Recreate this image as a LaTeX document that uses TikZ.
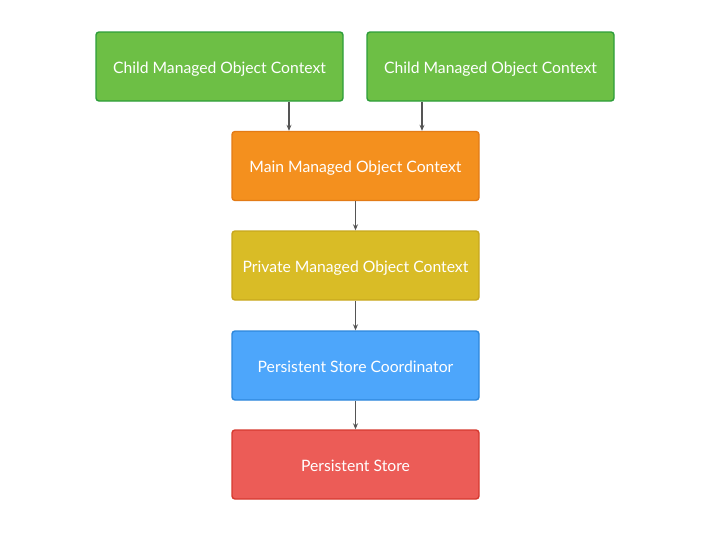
\documentclass[tikz,border=0pt]{standalone}
\usepackage{fontspec}
\setmainfont{Lato}
\usetikzlibrary{arrows.meta}
\definecolor{gfill}{HTML}{6DBF45}
\definecolor{gdraw}{HTML}{2E9E3A}
\definecolor{ofill}{HTML}{F4901E}
\definecolor{odraw}{HTML}{E37B16}
\definecolor{yfill}{HTML}{D9BC26}
\definecolor{ydraw}{HTML}{C8A71E}
\definecolor{bfill}{HTML}{4DA6FB}
\definecolor{bdraw}{HTML}{2D87DB}
\definecolor{rfill}{HTML}{EC5C57}
\definecolor{rdraw}{HTML}{D63A30}
\definecolor{arr}{HTML}{555555}
\begin{document}
\begin{tikzpicture}[x=1pt,y=-1pt,
  box/.style={rounded corners=3pt,line width=1.4pt,minimum width=247pt,minimum height=69pt,
    text=white,font=\fontsize{15.7}{18}\selectfont,inner sep=0pt,
    text height=13.6pt,text depth=0pt},
  conn/.style={draw=arr,line width=1.2pt,-{Stealth[length=6pt,width=5pt]}}]
\useasboundingbox (0,0) rectangle (710,533);
\node[box,fill=gfill,draw=gdraw] (c1) at (219.5,66.5) {Child Managed Object Context};
\node[box,fill=gfill,draw=gdraw] (c2) at (490.5,66.5) {Child Managed Object Context};
\node[box,fill=ofill,draw=odraw] (m) at (355.5,166) {Main Managed Object Context};
\node[box,fill=yfill,draw=ydraw] (p) at (355.5,265.5) {Private Managed Object Context};
\node[box,fill=bfill,draw=bdraw] (psc) at (355.5,365.5) {Persistent Store Coordinator};
\node[box,fill=rfill,draw=rdraw] (ps) at (355.5,464.5) {Persistent Store};
\draw[conn] (c1.south -| 289,0) -- (m.north -| 289,0);
\draw[conn] (c2.south -| 422,0) -- (m.north -| 422,0);
\draw[conn] (m) -- (p);
\draw[conn] (p) -- (psc);
\draw[conn] (psc) -- (ps);
\end{tikzpicture}
\end{document}
